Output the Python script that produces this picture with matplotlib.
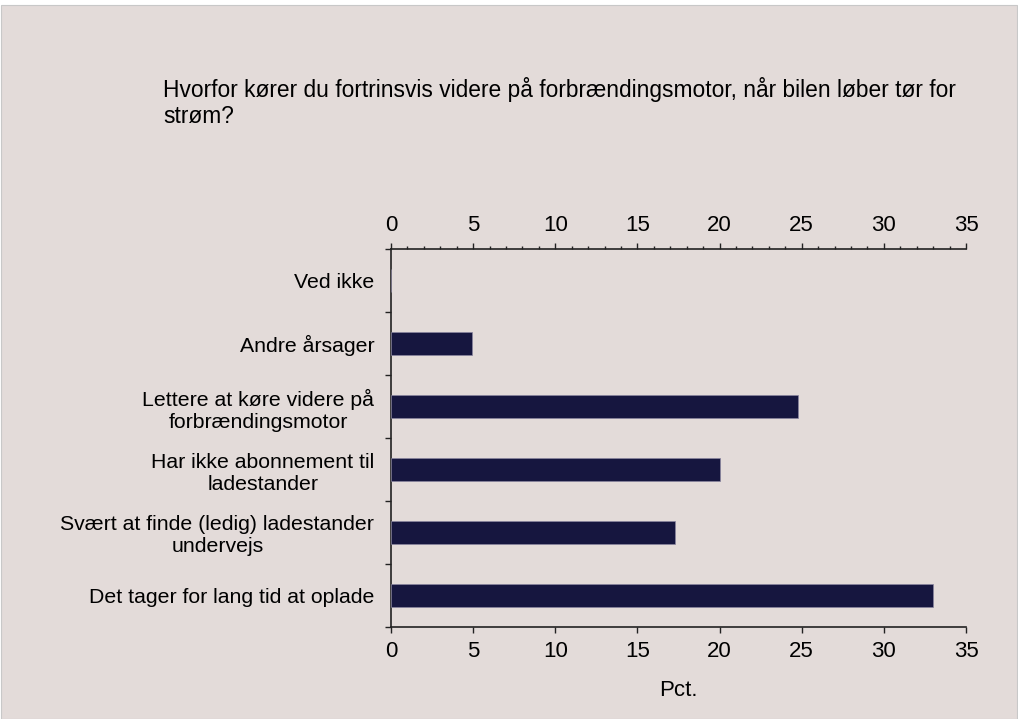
import matplotlib.pyplot as plt
from matplotlib.patches import Rectangle
from matplotlib.ticker import MultipleLocator, NullLocator

plt.rcParams['font.family'] = ['Liberation Sans', 'DejaVu Sans']

kategorier = ['Ved ikke', 'Andre årsager', 'Lettere at køre videre på\nforbrændingsmotor',
              'Har ikke abonnement til\nladestander', 'Svært at finde (ledig) ladestander\nundervejs',
              'Det tager for lang tid at oplade']
andele = [0, 4.9, 24.8, 20.0, 17.3, 33.0]
titel = 'Hvorfor kører du fortrinsvis videre på forbrændingsmotor, når bilen løber tør for\nstrøm?'

fs = 16
bg = '#e3dbd9'
fig = plt.figure(figsize=(10.18, 7.19), dpi=100, facecolor='white')
fig.patches.append(Rectangle((0.001, 0.0), 0.998, 714 / 719, transform=fig.transFigure,
                             facecolor=bg, edgecolor='#c8c8c8', linewidth=0.8, zorder=-5))

ax = fig.add_axes([391 / 1018, 1 - 627 / 719, 575 / 1018, 378 / 719])
ax.set_facecolor(bg)

pos = list(range(len(kategorier)))
ax.barh(pos, andele, height=0.35, color='#16163f', edgecolor='#8a86a0', linewidth=0.5, zorder=3)
ax.set_ylim(len(kategorier) - 0.5, -0.5)
ax.set_xlim(0, 35)

ax.set_yticks(pos)
ax.set_yticklabels(kategorier, fontsize=15.3, ha='right', multialignment='center', linespacing=1.2)
ax.tick_params(axis='y', length=0, pad=12)
# category boundary ticks
ax.set_yticks([p + 0.5 for p in pos[:-1]] + [-0.5, len(kategorier) - 0.5], minor=True)
ax.tick_params(axis='y', which='minor', length=4.5, width=1, direction='out', color='#222222')

ax.xaxis.set_major_locator(MultipleLocator(5))
ax.xaxis.set_minor_locator(NullLocator())
ax.tick_params(axis='x', which='major', labelsize=fs, length=4, width=1, pad=6, color='#222222')
ax.set_xlabel('Pct.', fontsize=fs, labelpad=13)

top = ax.secondary_xaxis('top')
top.xaxis.set_major_locator(MultipleLocator(5))
top.xaxis.set_minor_locator(MultipleLocator(1))
top.tick_params(which='major', labelsize=fs, length=4.3, width=1, pad=5, direction='out', color='#222222')
top.tick_params(which='minor', length=2.2, width=1, direction='out', color='#222222')
top.spines['top'].set_linewidth(1.2)
top.spines['top'].set_color('#222222')

ax.spines['right'].set_visible(False)
ax.spines['top'].set_visible(False)
for s in ['left', 'bottom']:
    ax.spines[s].set_linewidth(1.2)
    ax.spines[s].set_color('#222222')

fig.text(163 / 1018, 1 - 77 / 719, titel, fontsize=16.4, va='top', ha='left', linespacing=1.15)

fig.savefig('out.png', dpi=100, facecolor=fig.get_facecolor())
